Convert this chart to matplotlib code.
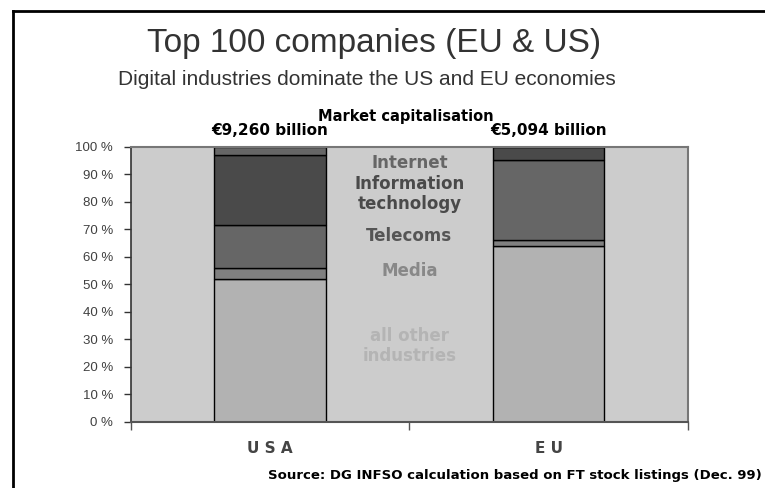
import numpy as np
import matplotlib.pyplot as plt
from matplotlib.lines import Line2D

# Market capitalisation shares of the top 100 companies (%)
categories = ["USA", "EU"]
totals = ["€9,260 billion", "€5,094 billion"]
sectors = ["all other industries", "Media", "Telecoms", "Information technology", "Internet"]
other = [51.8, 64.0]
media = [4.0, 2.1]
telecoms = [15.6, 29.1]
it = [25.6, 4.8]
internet = [3.0, 0.0]

shares = [other, media, telecoms, it, internet]
colors = ["#b2b2b2", "#808080", "#666666", "#4a4a4a", "#666666"]

fig = plt.figure(figsize=(7.65, 4.88), dpi=100)
ax = fig.add_axes([0.1712, 0.1359, 0.7278, 0.5635])
ax.set_facecolor("#cccccc")

x = np.arange(len(categories))
bottom = np.zeros(len(categories))
for vals, col in zip(shares, colors):
    vals = np.array(vals)
    ax.bar(x, vals, 0.4, bottom=bottom, color=col, edgecolor="black", linewidth=1.0)
    bottom += vals

ax.set_xlim(-0.5, 1.5)
ax.set_ylim(0, 100)
ax.set_yticks(np.arange(0, 101, 10))
ax.set_yticklabels([f"{v} %" for v in range(0, 101, 10)], fontsize=9.5,
                   color="#404040", family="Liberation Sans")
ax.set_xticks([-0.5, 0.5, 1.5])
ax.set_xticklabels([])
ax.tick_params(axis="y", length=5, color="#333333", width=1, pad=8)
ax.tick_params(axis="x", length=6, color="#555555", width=1)

for xi, name in zip(x, categories):
    ax.text(xi, -9.8, " ".join(name), ha="center", va="center", fontsize=11,
            fontweight="bold", color="#444444")

for sp in ["top", "right"]:
    ax.spines[sp].set_color("#777777")
    ax.spines[sp].set_linewidth(1.5)
ax.spines["left"].set_color("#333333")
ax.spines["bottom"].set_color("#555555")
ax.spines["left"].set_linewidth(1.2)
ax.spines["bottom"].set_linewidth(1.5)

# sector labels in the gap between the bars
lab = dict(ha="center", va="center", fontsize=12, fontweight="bold")
ax.text(0.5, 94.2, "Internet", color="#666666", **lab)
ax.text(0.5, 82.8, "Information\ntechnology", color="#4a4a4a", linespacing=1.15, **lab)
ax.text(0.5, 67.6, "Telecoms", color="#555555", **lab)
ax.text(0.5, 54.9, "Media", color="#888888", **lab)
ax.text(0.5, 27.6, "all other\nindustries", color="#b4b4b4", linespacing=1.15, **lab)

for xi, t in zip(x, totals):
    ax.text(xi, 103, t, ha="center", va="bottom", fontsize=11,
            fontweight="bold", color="black")

fig.text(0.53, 0.762, "Market capitalisation", ha="center", va="center",
         fontsize=10.5, fontweight="bold", color="black")
fig.text(0.489, 0.91, "Top 100 companies (EU & US)", ha="center", va="center",
         fontsize=24, color="#333333", family="Liberation Sans")
fig.text(0.479, 0.838, "Digital industries dominate the US and EU economies",
         ha="center", va="center", fontsize=15, color="#333333",
         family="Liberation Sans")
fig.text(0.996, 0.025, "Source: DG INFSO calculation based on FT stock listings (Dec. 99)",
         ha="right", va="center", fontsize=9.5, fontweight="bold", color="black")

# frame lines along the top and left of the figure
fig.add_artist(Line2D([0.017, 1.0], [0.9775, 0.9775], color="black", linewidth=2,
                      transform=fig.transFigure))
fig.add_artist(Line2D([0.017, 0.017], [0.0, 0.9775], color="black", linewidth=2,
                      transform=fig.transFigure))

fig.savefig("out.png", dpi=100)
